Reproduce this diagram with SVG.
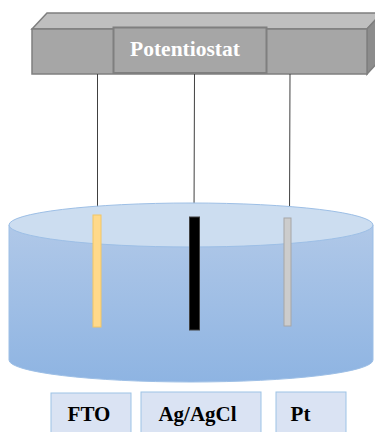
<svg xmlns="http://www.w3.org/2000/svg" width="375" height="432" viewBox="0 0 375 432">
  <defs>
    <linearGradient id="liquid" x1="0" y1="0" x2="0" y2="1">
      <stop offset="0" stop-color="#B0C8E8"/>
      <stop offset="1" stop-color="#8EB4E2"/>
    </linearGradient>
    <style>
      .bold { font-family: "Liberation Serif", "Times New Roman", serif; font-weight: bold; }
      .wire { stroke: #404040; stroke-width: 1; fill: none; }
      .label { fill: #DAE3F3; stroke: #9DC3E6; stroke-width: 1; }
    </style>
  </defs>
  <rect width="375" height="432" fill="#FFFFFF"/>

  <!-- potentiostat unit (3D bar) -->
  <g id="potentiostat">
    <polygon points="32,29 47,13 382,13 367,29" fill="#BFBFBF" stroke="#7F7F7F" stroke-width="1.5"/>
    <polygon points="367,29 382,13 382,58 367,74" fill="#8C8C8C" stroke="#7F7F7F" stroke-width="1.5"/>
    <rect x="32" y="29" width="335" height="45" fill="#A6A6A6" stroke="#7F7F7F" stroke-width="1.5"/>
    <rect x="113.5" y="27.5" width="153" height="45.5" fill="#A6A6A6" stroke="#7F7F7F" stroke-width="2"/>
    <text class="bold" x="185" y="56" font-size="21.5" fill="#FFFFFF" text-anchor="middle">Potentiostat</text>
  </g>

  <!-- connecting wires -->
  <g id="connectors">
    <line class="wire" x1="97.5" y1="74" x2="97.5" y2="215"/>
    <line class="wire" x1="194.5" y1="74" x2="194" y2="217"/>
    <line class="wire" x1="290" y1="74" x2="289.5" y2="218"/>
  </g>

  <!-- electrolyte cell -->
  <g id="cell">
    <path d="M9,225 L9,360 A182,22 0 0 0 373,360 L373,225 Z" fill="url(#liquid)" stroke="#9DBFE6" stroke-width="1"/>
    <ellipse cx="191" cy="225" rx="182" ry="22" fill="#CCDDF0" stroke="#9DBFE6" stroke-width="1"/>
  </g>

  <!-- electrodes -->
  <g id="electrode-fto">
    <rect x="93" y="215" width="8" height="112" fill="#FFD98A" stroke="#F2C665" stroke-width="1"/>
  </g>
  <g id="electrode-agagcl">
    <rect x="189.5" y="217" width="10" height="113" fill="#000000" stroke="#404040" stroke-width="1"/>
  </g>
  <g id="electrode-pt">
    <rect x="284" y="218" width="7" height="108" fill="#CCCCCC" stroke="#A6A6A6" stroke-width="1"/>
  </g>

  <!-- electrode labels -->
  <g id="label-fto">
    <rect class="label" x="51" y="393" width="80" height="45"/>
    <text class="bold" x="89" y="421" font-size="21" fill="#000000" text-anchor="middle">FTO</text>
  </g>
  <g id="label-agagcl">
    <rect class="label" x="141" y="392" width="120" height="46"/>
    <text class="bold" x="197.5" y="421" font-size="21" fill="#000000" text-anchor="middle">Ag/AgCl</text>
  </g>
  <g id="label-pt">
    <rect class="label" x="276" y="392" width="70" height="46"/>
    <text class="bold" x="300.5" y="421" font-size="21" fill="#000000" text-anchor="middle">Pt</text>
  </g>
</svg>
